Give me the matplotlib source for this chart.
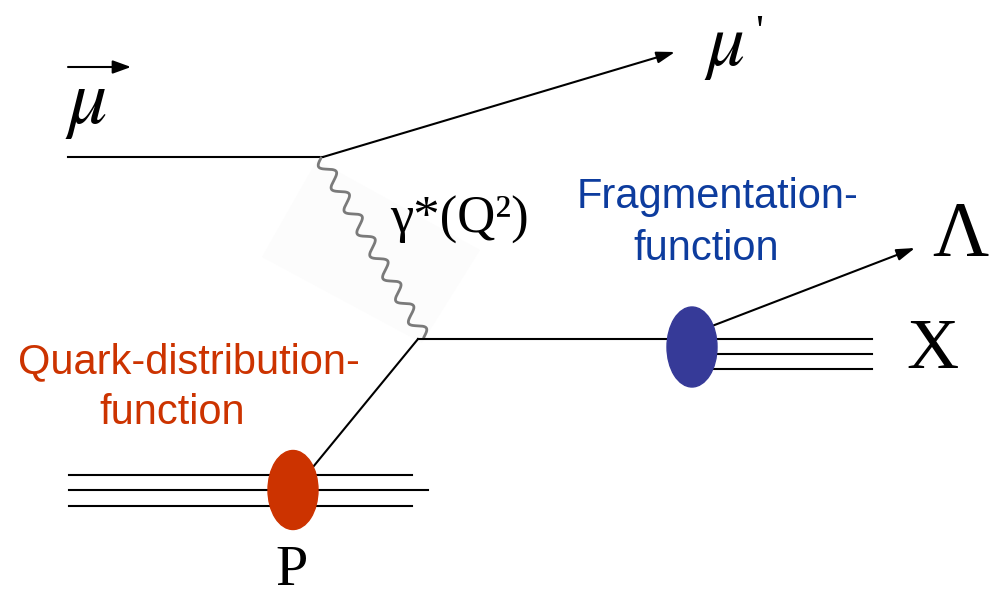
import numpy as np
import matplotlib.pyplot as plt
from matplotlib.patches import Ellipse, Polygon

plt.rcParams['mathtext.fontset'] = 'stix'

# diagram geometry (pixel units, y grows downward)
mu_in = [(68, 157), (323, 157)]
mu_out = [(323, 157), (675, 52)]
photon = [(321, 158), (424, 337)]
quark_up = [(313, 467), (418, 339)]
quark_out = [(418, 339), (690, 339)]
lambda_out = [(712, 326), (915, 248)]
x_lines_y = [339, 354, 369]
x_lines_x = [700, 872]
p_lines_y = [475, 490, 506]
p_lines_x0 = [69, 69, 69]
p_lines_x1 = [412, 428, 412]
shade = [(317, 160), (480, 250), (422, 343), (262, 257)]

red_blob = (293, 490, 50, 79)
blue_blob = (692, 347, 50, 80)

red = '#cc3300'
blue = '#363a98'
blue_txt = '#0d3c9e'

fig = plt.figure(figsize=(9.9, 5.97), dpi=100)
ax = fig.add_axes([0, 0, 1, 1])
ax.set_xlim(0, 990)
ax.set_ylim(597, 0)
ax.axis('off')

ax.add_patch(Polygon(shade, closed=True, facecolor='#fcfcfc', edgecolor='none', zorder=0))

lw = 1.5
arrow = dict(arrowstyle='-|>,head_length=1.1,head_width=0.35', color='k', lw=lw,
             shrinkA=0, shrinkB=0)
ax.plot(*zip(*mu_in), color='k', lw=lw)
ax.annotate('', xy=mu_out[1], xytext=mu_out[0], arrowprops=arrow)

# wavy photon
(x0, y0), (x1, y1) = photon
L = np.hypot(x1 - x0, y1 - y0)
t = np.linspace(0, 1, 600)
ux, uy = (x1 - x0) / L, (y1 - y0) / L
wave = 6.5 * np.sin(2 * np.pi * 8 * t)
ax.plot(x0 + ux * L * t - uy * wave, y0 + uy * L * t + ux * wave, color='#7a7a7a', lw=2.0)

ax.plot(*zip(*quark_up), color='k', lw=lw)
ax.plot(*zip(*quark_out), color='k', lw=lw)
for y in x_lines_y:
    ax.plot(x_lines_x, [y, y], color='k', lw=lw)
for y, xa, xb in zip(p_lines_y, p_lines_x0, p_lines_x1):
    ax.plot([xa, xb], [y, y], color='k', lw=lw)

ax.annotate('', xy=lambda_out[1], xytext=lambda_out[0], arrowprops=arrow, zorder=3)

ax.add_patch(Ellipse(red_blob[:2], red_blob[2], red_blob[3], color=red, zorder=4))
ax.add_patch(Ellipse(blue_blob[:2], blue_blob[2], blue_blob[3], color=blue, zorder=4))

# vector arrow over incoming muon
ax.annotate('', xy=(131, 67), xytext=(68, 67),
            arrowprops=dict(arrowstyle='-|>,head_length=1.1,head_width=0.4', color='k', lw=lw,
                            shrinkA=0, shrinkB=0))
ax.text(86, 103, r'$\mu$', fontsize=56, ha='center', va='center')
ax.text(724, 46, r'$\mu$', fontsize=54, ha='center', va='center')
ax.text(759, 45, "'", fontsize=32, family='Liberation Serif', ha='center', va='baseline')

serif = 'Liberation Serif'
ax.text(460, 220, 'γ*(Q²)', fontsize=38, family=serif, ha='center', va='center')
ax.text(960, 236, 'Λ', fontsize=56, family=serif, ha='center', va='center')
ax.text(932, 351, 'X', fontsize=52, family=serif, ha='center', va='center')
ax.text(292, 585, 'P', fontsize=42, family=serif, ha='center', va='baseline')

sans = 'Liberation Sans'
ax.text(189, 373, 'Quark-distribution-', fontsize=30, family=sans, color=red, ha='center', va='baseline')
ax.text(172, 424, 'function', fontsize=30, family=sans, color=red, ha='center', va='baseline')
ax.text(718, 208, 'Fragmentation-', fontsize=30, family=sans, color=blue_txt, ha='center', va='baseline')
ax.text(706, 260, 'function', fontsize=30, family=sans, color=blue_txt, ha='center', va='baseline')

fig.savefig('out.png', dpi=100)
